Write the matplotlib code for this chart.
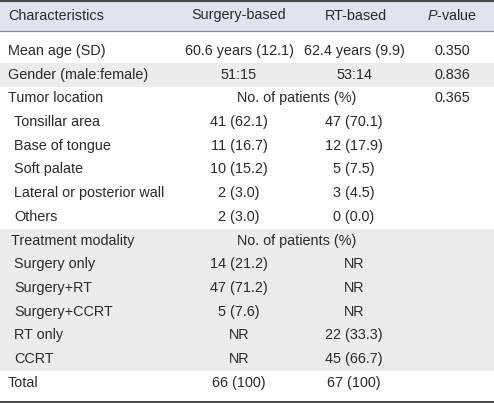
import matplotlib
matplotlib.use("Agg")
import matplotlib.pyplot as plt

# table content
columns = ["Characteristics", "Surgery-based", "RT-based", "-value"]
row_labels = ["Mean age (SD)", "Gender (male:female)", "Tumor location",
              "Tonsillar area", "Base of tongue", "Soft palate",
              "Lateral or posterior wall", "Others", "Treatment modality",
              "Surgery only", "Surgery+RT", "Surgery+CCRT", "RT only", "CCRT",
              "Total"]
indent = [0, 0, 0, 2, 2, 2, 2, 2, 1, 2, 2, 2, 2, 2, 0]
surgery = ["60.6 years (12.1)", "51:15", "", "41 (62.1)", "11 (16.7)",
           "10 (15.2)", "2 (3.0)", "2 (3.0)", "", "14 (21.2)", "47 (71.2)",
           "5 (7.6)", "NR", "NR", "66 (100)"]
rt = ["62.4 years (9.9)", "53:14", "", "47 (70.1)", "12 (17.9)", "5 (7.5)",
      "3 (4.5)", "0 (0.0)", "", "NR", "NR", "NR", "22 (33.3)", "45 (66.7)",
      "67 (100)"]
pvalue = ["0.350", "0.836", "0.365", "", "", "", "", "", "", "", "", "", "",
          "", ""]
span_text = {2: "No. of patients (%)", 8: "No. of patients (%)"}
shaded = [1, 8, 9, 10, 11, 12, 13]

plt.rcParams["font.family"] = ["Liberation Sans", "DejaVu Sans"]
plt.rcParams["mathtext.fontset"] = "custom"
plt.rcParams["mathtext.it"] = "Liberation Sans:italic"

W, H = 494, 403
fig = plt.figure(figsize=(W / 100, H / 100), dpi=100)
ax = fig.add_axes([0, 0, 1, 1])
ax.set_xlim(0, W)
ax.set_ylim(H, 0)
ax.axis("off")

txt = "#2b2b2b"
fs = 10.4
x_label = [8, 11, 14]
x_surg, x_rt, x_span, x_p = 239, 354, 297, 452
row0, pitch = 51, 23.7
half = pitch / 2

# header
ax.axhspan(0, 31, color="#dfe4ee", lw=0)
ax.axhline(0.8, color="#4a4a4a", lw=1.6)
ax.axhline(31, color="#8a8a8a", lw=0.9)
hy = 15.5
ax.text(x_label[0], hy, columns[0], ha="left", va="center", fontsize=fs, color=txt)
ax.text(x_surg, hy, columns[1], ha="center", va="center", fontsize=fs, color=txt)
ax.text(x_rt + 2, hy, columns[2], ha="center", va="center", fontsize=fs, color=txt)
ax.text(x_p, hy, r"$\it{P}$" + columns[3], ha="center", va="center", fontsize=fs, color=txt)

# shaded rows
for i in shaded:
    yc = row0 + i * pitch
    ax.axhspan(yc - half, yc + half, color="#ececec", lw=0)

for i, lab in enumerate(row_labels):
    yc = row0 + i * pitch
    ax.text(x_label[indent[i]], yc, lab, ha="left", va="center", fontsize=fs, color=txt)
    if i in span_text:
        ax.text(x_span, yc, span_text[i], ha="center", va="center", fontsize=fs, color=txt)
    ax.text(x_surg, yc, surgery[i], ha="center", va="center", fontsize=fs, color=txt)
    ax.text(x_rt, yc, rt[i], ha="center", va="center", fontsize=fs, color=txt)
    ax.text(x_p, yc, pvalue[i], ha="center", va="center", fontsize=fs, color=txt)

ax.axhline(401.5, color="#4a4a4a", lw=1.4)

fig.savefig("out.png", dpi=100)
